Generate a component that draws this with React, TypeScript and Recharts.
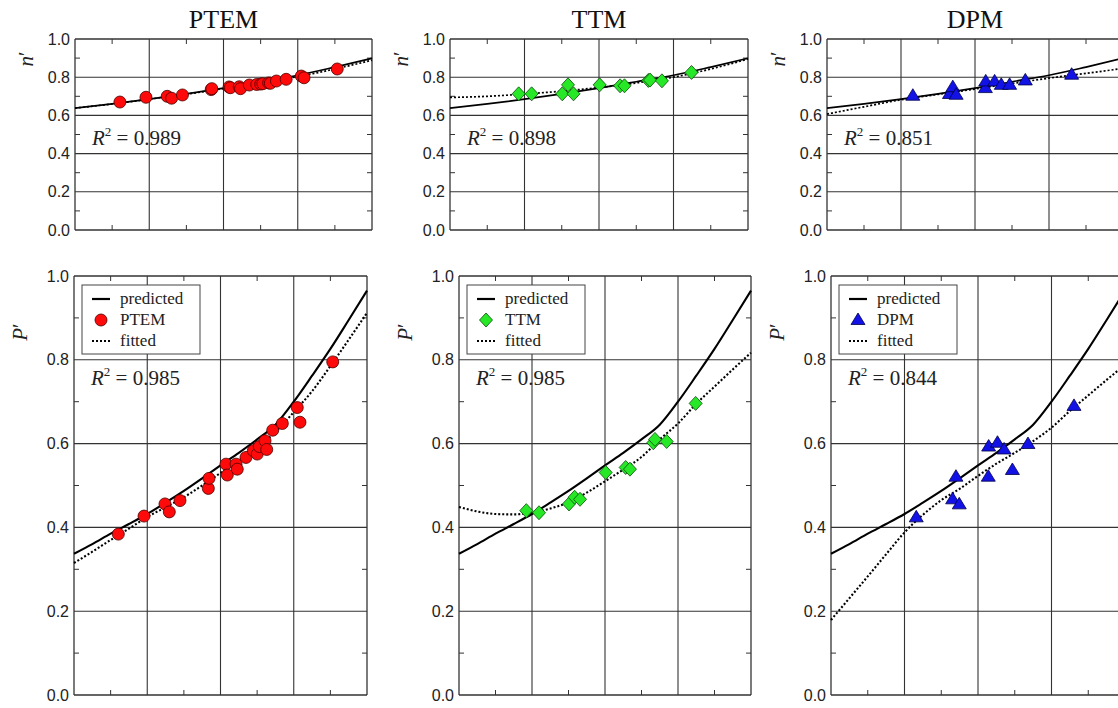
import React from "react";
import { ComposedChart, Scatter, Line, XAxis, YAxis, ReferenceLine } from "recharts";

const models = ["PTEM", "TTM", "DPM"];
const r2Top = ["0.989", "0.898", "0.851"];
const r2Bottom = ["0.985", "0.985", "0.844"];

const yTicks = [0, 0.2, 0.4, 0.6, 0.8, 1.0];
const yGrid = [0.2, 0.4, 0.6, 0.8];
const yMinor = [0.1, 0.3, 0.5, 0.7, 0.9];
const xGrid = [1, 2, 3];
const xMinor = [0.5, 1.5, 2.5, 3.5];

// curves
const nCurveX = [0, 0.5, 1, 1.5, 2, 2.5, 3, 3.5, 4];
const predictedN = [0.638, 0.66, 0.685, 0.713, 0.743, 0.776, 0.81, 0.853, 0.899];
const fittedNPtem = [0.638, 0.66, 0.685, 0.711, 0.74, 0.77, 0.803, 0.843, 0.889];
const fittedNTtm = [0.694, 0.7, 0.712, 0.727, 0.746, 0.77, 0.8, 0.843, 0.895];
const fittedNDpm = [0.607, 0.645, 0.682, 0.71, 0.738, 0.767, 0.795, 0.82, 0.846];

const pCurveX = [0, 0.25, 0.5, 0.75, 1, 1.25, 1.5, 1.75, 2, 2.25, 2.5, 2.75, 3, 3.25, 3.5, 3.75, 4];
const predictedP = [0.337, 0.36, 0.385, 0.408, 0.432, 0.459, 0.487, 0.517, 0.548, 0.578, 0.61, 0.645, 0.7, 0.762, 0.826, 0.895, 0.965];
const fittedPPtem = [0.315, 0.342, 0.37, 0.397, 0.425, 0.448, 0.472, 0.5, 0.53, 0.56, 0.59, 0.628, 0.675, 0.725, 0.785, 0.848, 0.912];
const fittedPTtm = [0.449, 0.438, 0.432, 0.431, 0.435, 0.445, 0.46, 0.483, 0.51, 0.538, 0.568, 0.61, 0.648, 0.695, 0.736, 0.777, 0.817];
const fittedPDpm = [0.179, 0.231, 0.283, 0.336, 0.388, 0.43, 0.465, 0.492, 0.523, 0.552, 0.578, 0.606, 0.638, 0.678, 0.715, 0.752, 0.788];

// measured points
const ptemX = [0.605, 0.956, 1.242, 1.301, 1.447, 1.834, 1.843, 2.075, 2.093, 2.212, 2.229, 2.348, 2.448, 2.502, 2.53, 2.608, 2.631, 2.713, 2.844, 3.048, 3.085, 3.532];
const ptemN = [0.67, 0.695, 0.7, 0.69, 0.707, 0.735, 0.74, 0.749, 0.745, 0.75, 0.74, 0.759, 0.762, 0.764, 0.766, 0.77, 0.768, 0.78, 0.789, 0.806, 0.797, 0.843];
const ptemP = [0.384, 0.427, 0.456, 0.437, 0.464, 0.493, 0.517, 0.551, 0.525, 0.551, 0.539, 0.567, 0.583, 0.575, 0.593, 0.607, 0.586, 0.632, 0.648, 0.686, 0.651, 0.795];

const ttmX = [0.922, 1.096, 1.507, 1.584, 1.658, 2.009, 2.283, 2.342, 2.662, 2.685, 2.845, 3.242];
const ttmN = [0.713, 0.713, 0.713, 0.76, 0.713, 0.76, 0.755, 0.755, 0.783, 0.785, 0.781, 0.825];
const ttmP = [0.44, 0.435, 0.456, 0.472, 0.467, 0.531, 0.543, 0.539, 0.602, 0.61, 0.605, 0.696];

const dpmX = [1.16, 1.655, 1.7, 1.745, 2.14, 2.145, 2.265, 2.355, 2.468, 2.68, 3.306];
const dpmN = [0.703, 0.712, 0.748, 0.708, 0.743, 0.778, 0.778, 0.76, 0.76, 0.783, 0.813];
const dpmP = [0.424, 0.467, 0.521, 0.455, 0.521, 0.593, 0.602, 0.586, 0.537, 0.599, 0.69];

const sans = "'Liberation Sans', Arial, sans-serif";
const serif = "'Liberation Serif', 'Times New Roman', serif";
const gridColor = "#333";

const zip = (xs: number[], ys: number[]) => xs.map((x, i) => ({ x, y: ys[i] }));

const RedCircle = (p: any) => (
  <circle cx={p.cx} cy={p.cy} r={6} fill="#ff0a0a" stroke="#4a0000" strokeWidth={0.8} />
);
const GreenDiamond = (p: any) => (
  <path
    d={`M${p.cx},${p.cy - 7}L${p.cx + 6.5},${p.cy}L${p.cx},${p.cy + 7}L${p.cx - 6.5},${p.cy}Z`}
    fill="#27e827"
    stroke="#0a4a0a"
    strokeWidth={0.8}
  />
);
const BlueTriangle = (p: any) => (
  <path
    d={`M${p.cx},${p.cy - 7}L${p.cx + 7},${p.cy + 4.5}L${p.cx - 7},${p.cy + 4.5}Z`}
    fill="#1212e6"
    stroke="#00004a"
    strokeWidth={0.8}
  />
);
const markers = [RedCircle, GreenDiamond, BlueTriangle];

interface PanelProps {
  left: number;
  top: number;
  w: number;
  h: number;
  points: { x: number; y: number }[];
  predicted: { x: number; y: number }[];
  fitted: { x: number; y: number }[];
  Marker: (p: any) => React.ReactElement;
  lineW: number;
}

const Panel = ({ left, top, w, h, points, predicted, fitted, Marker, lineW }: PanelProps) => {
  const yw = 60;
  const m = 10;
  const tx = (5 * 4) / w;
  const ty = 5 / h;
  return (
    <div style={{ position: "absolute", left: left - yw, top: top - m }}>
      <ComposedChart width={yw + w + m} height={h + 2 * m} margin={{ top: m, right: m, bottom: m, left: 0 }}>
        <XAxis type="number" dataKey="x" domain={[0, 4]} hide />
        <YAxis
          type="number"
          dataKey="y"
          domain={[0, 1]}
          ticks={yTicks}
          width={yw}
          tickFormatter={(v: number) => v.toFixed(1)}
          axisLine={false}
          tickLine={false}
          tickSize={3}
          tickMargin={2}
          tick={{ fill: "#222", fontSize: 16, fontFamily: sans }}
        />
        {yGrid.map((v) => (
          <ReferenceLine key={"gy" + v} y={v} stroke={gridColor} strokeWidth={1.1} />
        ))}
        {xGrid.map((v) => (
          <ReferenceLine key={"gx" + v} x={v} stroke={gridColor} strokeWidth={1.1} />
        ))}
        {yMinor.map((v) => (
          <ReferenceLine key={"ml" + v} segment={[{ x: 0, y: v }, { x: tx, y: v }]} stroke={gridColor} />
        ))}
        {yMinor.map((v) => (
          <ReferenceLine key={"mr" + v} segment={[{ x: 4 - tx, y: v }, { x: 4, y: v }]} stroke={gridColor} />
        ))}
        {xMinor.map((v) => (
          <ReferenceLine key={"mb" + v} segment={[{ x: v, y: 0 }, { x: v, y: ty }]} stroke={gridColor} />
        ))}
        {xMinor.map((v) => (
          <ReferenceLine key={"mt" + v} segment={[{ x: v, y: 1 - ty }, { x: v, y: 1 }]} stroke={gridColor} />
        ))}
        <ReferenceLine x={0} stroke="#333" strokeWidth={1.3} />
        <ReferenceLine x={4} stroke="#333" strokeWidth={1.3} />
        <ReferenceLine y={0} stroke="#333" strokeWidth={1.3} />
        <ReferenceLine y={1} stroke="#333" strokeWidth={1.3} />
        <Scatter data={points} dataKey="y" shape={Marker} isAnimationActive={false} />
        <Line
          data={predicted}
          dataKey="y"
          type="monotone"
          stroke="#000"
          strokeWidth={lineW}
          dot={false}
          isAnimationActive={false}
        />
        <Line
          data={fitted}
          dataKey="y"
          type="monotone"
          stroke="#000"
          strokeWidth={lineW}
          strokeDasharray="2 2"
          dot={false}
          isAnimationActive={false}
        />
      </ComposedChart>
    </div>
  );
};

const topBoxes = [
  { left: 75, w: 297 },
  { left: 450, w: 298 },
  { left: 827, w: 296 },
];
const bottomBoxes = [
  { left: 74, w: 293 },
  { left: 459, w: 292 },
  { left: 831, w: 294 },
];
const topY = 39;
const topH = 191;
const botY = 276;
const botH = 419;

const topPoints = [zip(ptemX, ptemN), zip(ttmX, ttmN), zip(dpmX, dpmN)];
const bottomPoints = [zip(ptemX, ptemP), zip(ttmX, ttmP), zip(dpmX, dpmP)];
const topFitted = [fittedNPtem, fittedNTtm, fittedNDpm];
const bottomFitted = [fittedPPtem, fittedPTtm, fittedPDpm];

const R2 = ({ x, y, value }: { x: number; y: number; value: string }) => (
  <text x={x} y={y} style={{ fontFamily: serif, fontSize: 21 }} fill="#222">
    <tspan fontStyle="italic">R</tspan>
    <tspan style={{ fontSize: 13 }} dy={-9}>2</tspan>
    <tspan dy={9}>{" = " + value}</tspan>
  </text>
);

const LegendBox = ({ x, name, i }: { x: number; name: string; i: number }) => {
  const M = markers[i];
  const y = 285;
  return (
    <g>
      <rect x={x} y={y} width={118} height={69} fill="#fff" stroke="#444" strokeWidth={1} />
      <line x1={x + 10} x2={x + 28} y1={y + 14} y2={y + 14} stroke="#000" strokeWidth={2.2} />
      <M cx={x + 19} cy={y + 35} />
      <line x1={x + 10} x2={x + 28} y1={y + 56} y2={y + 56} stroke="#000" strokeWidth={2.2} strokeDasharray="2 2" />
      <g style={{ fontFamily: serif, fontSize: 17 }} fill="#222">
        <text x={x + 38} y={y + 19}>predicted</text>
        <text x={x + 38} y={y + 40}>{name}</text>
        <text x={x + 38} y={y + 61}>fitted</text>
      </g>
    </g>
  );
};

const AxisTitle = ({ x, y, letter }: { x: number; y: number; letter: string }) => (
  <text
    x={x}
    y={y}
    transform={`rotate(-90 ${x} ${y})`}
    textAnchor="middle"
    dominantBaseline="central"
    style={{ fontFamily: serif, fontSize: 21 }}
    fill="#222"
  >
    <tspan fontStyle="italic">{letter}</tspan>
    <tspan>′</tspan>
  </text>
);

export default function App() {
  return (
    <div style={{ position: "absolute", left: 0, top: 0, width: 1118, height: 708, overflow: "hidden", background: "#fff" }}>
      {topBoxes.map((b, i) => (
        <Panel
          key={"t" + i}
          left={b.left}
          top={topY}
          w={b.w}
          h={topH}
          points={topPoints[i]}
          predicted={zip(nCurveX, predictedN)}
          fitted={zip(nCurveX, topFitted[i])}
          Marker={markers[i]}
          lineW={1.7}
        />
      ))}
      {bottomBoxes.map((b, i) => (
        <Panel
          key={"b" + i}
          left={b.left}
          top={botY}
          w={b.w}
          h={botH}
          points={bottomPoints[i]}
          predicted={zip(pCurveX, predictedP)}
          fitted={zip(pCurveX, bottomFitted[i])}
          Marker={markers[i]}
          lineW={2.1}
        />
      ))}
      <svg
        width={1118}
        height={708}
        style={{ position: "absolute", left: 0, top: 0, pointerEvents: "none" }}
      >
        {topBoxes.map((b, i) => (
          <text
            key={"title" + i}
            x={b.left + b.w / 2}
            y={28}
            textAnchor="middle"
            style={{ fontFamily: serif, fontSize: 26 }}
            fill="#111"
          >
            {models[i]}
          </text>
        ))}
        {topBoxes.map((b, i) => (
          <AxisTitle key={"yn" + i} x={b.left - 49} y={59} letter="n" />
        ))}
        {bottomBoxes.map((b, i) => (
          <AxisTitle key={"yp" + i} x={b.left - 54} y={332} letter="P" />
        ))}
        {topBoxes.map((b, i) => (
          <R2 key={"r2t" + i} x={b.left + 17} y={145} value={r2Top[i]} />
        ))}
        {bottomBoxes.map((b, i) => (
          <R2 key={"r2b" + i} x={b.left + 17} y={385} value={r2Bottom[i]} />
        ))}
        {bottomBoxes.map((b, i) => (
          <LegendBox key={"lg" + i} x={b.left + 8} name={models[i]} i={i} />
        ))}
      </svg>
    </div>
  );
}
